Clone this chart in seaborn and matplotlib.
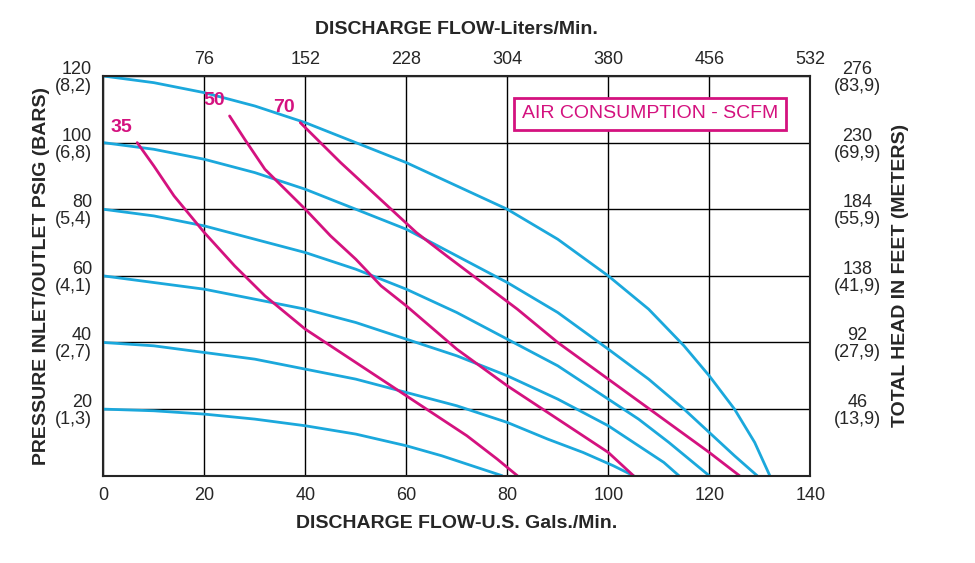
import matplotlib
matplotlib.use("Agg")
import matplotlib.pyplot as plt
import seaborn as sns

sns.set_theme(style="white")
plt.rcParams['font.family'] = ['Liberation Sans', 'DejaVu Sans']

gpm_ticks = [0, 20, 40, 60, 80, 100, 120, 140]
lpm_labels = ["76", "152", "228", "304", "380", "456", "532"]
psi_ticks = [20, 40, 60, 80, 100, 120]
psi_labels = ["20\n(1,3)", "40\n(2,7)", "60\n(4,1)", "80\n(5,4)", "100\n(6,8)", "120\n(8,2)"]
head_labels = ["46\n(13,9)", "92\n(27,9)", "138\n(41,9)", "184\n(55,9)", "230\n(69,9)", "276\n(83,9)"]

# pump curves (blue): flow gpm, pressure psig
p120_x = [0, 10, 20, 30, 40, 50, 60, 70, 80, 90, 100, 108, 115, 120, 125, 129, 132]
p120_y = [120, 118, 115, 111, 106, 100, 94, 87, 80, 71, 60, 50, 39, 30, 20, 10, 0]
p100_x = [0, 10, 20, 30, 40, 50, 60, 70, 80, 90, 100, 108, 115, 120, 125, 129.5]
p100_y = [100, 98, 95, 91, 86, 80, 74, 66, 58, 49, 38, 29, 20, 13, 6, 0]
p80_x = [0, 10, 20, 30, 40, 50, 60, 70, 80, 90, 100, 106, 112, 116, 120]
p80_y = [80, 78, 75, 71, 67, 62, 56, 49, 41, 33, 23, 17, 10, 5, 0]
p60_x = [0, 10, 20, 30, 40, 50, 60, 70, 80, 90, 100, 106, 111, 114]
p60_y = [60, 58, 56, 53, 50, 46, 41, 36, 30, 23, 15, 9, 4, 0]
p40_x = [0, 10, 20, 30, 40, 50, 60, 70, 80, 88, 95, 101, 105]
p40_y = [40, 39, 37, 35, 32, 29, 25, 21, 16, 11, 7, 3, 0]
p20_x = [0, 10, 20, 30, 40, 50, 60, 67, 73, 79]
p20_y = [20, 19.5, 18.5, 17, 15, 12.5, 9, 6, 3, 0]

# air consumption curves (magenta)
a35_x = [6.7, 10, 14, 20, 26, 32, 40, 48, 56, 64, 72, 78, 82]
a35_y = [100, 93, 84, 73, 63, 54, 44, 36, 28, 20, 12, 5, 0]
a50_x = [25, 28, 32, 36, 40, 45, 50, 55, 60, 70, 80, 90, 100, 105]
a50_y = [108, 101, 92, 86, 80, 72, 65, 57, 51, 38, 27, 17, 7, 0]
a70_x = [39, 43, 47, 52, 57, 62, 68, 75, 82, 90, 100, 110, 120, 126]
a70_y = [106, 100, 94, 87, 80, 73, 66, 58, 50, 40, 29, 18, 7, 0]

fig = plt.figure(figsize=(9.75, 5.63), dpi=100)
ax = fig.add_axes([0.106, 0.155, 0.725, 0.71])
blue = "#1ba8dc"
mag = "#d4127f"
for xs, ys in [(p120_x, p120_y), (p100_x, p100_y), (p80_x, p80_y),
               (p60_x, p60_y), (p40_x, p40_y), (p20_x, p20_y)]:
    sns.lineplot(x=xs, y=ys, ax=ax, color=blue, lw=2, sort=False, estimator=None)
for xs, ys, lab in [(a35_x, a35_y, "35"), (a50_x, a50_y, "50"), (a70_x, a70_y, "70")]:
    sns.lineplot(x=xs, y=ys, ax=ax, color=mag, lw=2, sort=False, estimator=None)
    ax.text(xs[0] - 1, ys[0] + 2, lab, color=mag, fontsize=14, fontweight='bold',
            ha='right', va='bottom')

ax.set_xlim(0, 140)
ax.set_ylim(0, 120)
ax.set_xticks(gpm_ticks)
ax.set_yticks(psi_ticks)
ax.set_yticklabels(psi_labels, fontsize=13, linespacing=1.0)
ax.tick_params(axis='x', labelsize=13)
ax.grid(True, color='black', lw=1)
for s in ax.spines.values():
    s.set_color('black'); s.set_linewidth(1.5)
ax.set_xlabel("DISCHARGE FLOW-U.S. Gals./Min.", fontsize=14, fontweight='bold', labelpad=8)
ax.set_ylabel("PRESSURE INLET/OUTLET PSIG (BARS)", fontsize=14, fontweight='bold')
ax.tick_params(length=0, pad=8)

top = ax.twiny()
top.set_xlim(0, 140)
top.set_xticks(gpm_ticks[1:])
top.set_xticklabels(lpm_labels, fontsize=13)
top.set_xlabel("DISCHARGE FLOW-Liters/Min.", fontsize=14, fontweight='bold', labelpad=12)
top.tick_params(length=0, pad=6)

right = ax.twinx()
right.set_ylim(0, 120)
right.set_yticks(psi_ticks)
right.set_yticklabels(head_labels, fontsize=13, linespacing=1.0, ha='center')
right.tick_params(axis='y', length=0, pad=34)
right.set_ylabel("TOTAL HEAD IN FEET (METERS)", fontsize=14, fontweight='bold', labelpad=8)

ax.text(0.955, 0.905, "AIR CONSUMPTION - SCFM", transform=ax.transAxes, color=mag,
        fontsize=14, ha='right', va='center',
        bbox=dict(boxstyle='square,pad=0.4', fc='white', ec=mag, lw=2))

fig.savefig("out.png", dpi=100)
